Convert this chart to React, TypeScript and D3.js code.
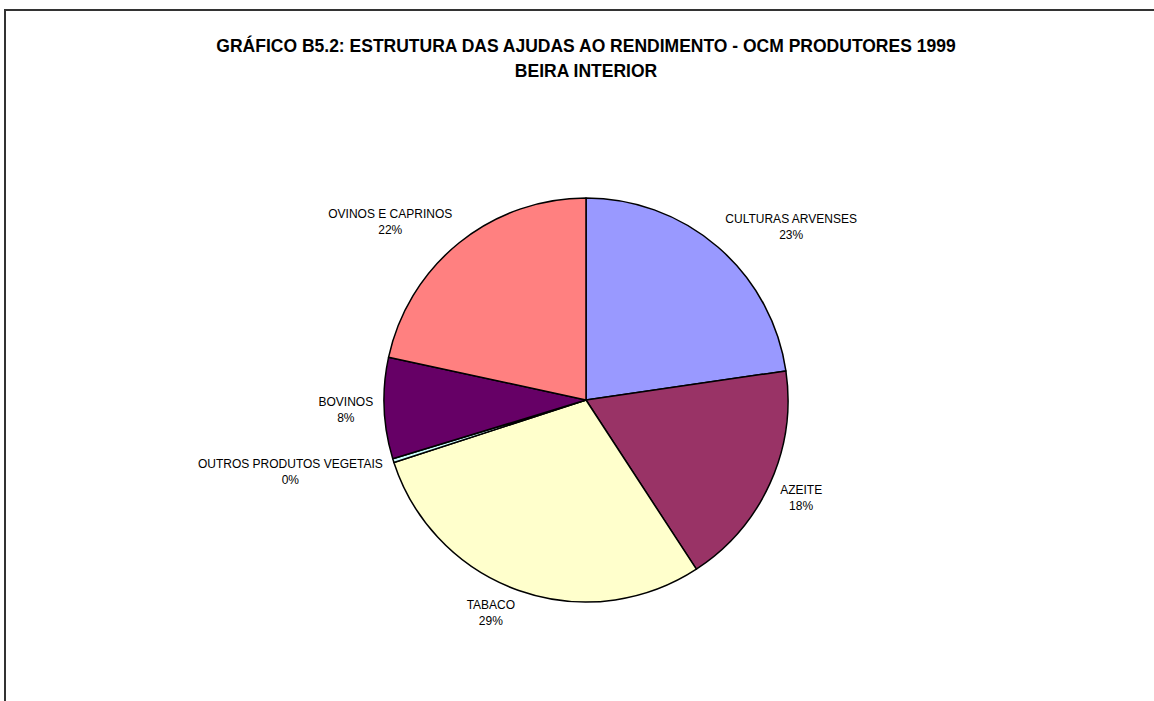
import React, { useEffect, useRef } from 'react';
import * as d3 from 'd3';

const categories = [
  'CULTURAS ARVENSES',
  'AZEITE',
  'TABACO',
  'OUTROS PRODUTOS VEGETAIS',
  'BOVINOS',
  'OVINOS E CAPRINOS'
];
const shares = [22.7, 18.1, 29.2, 0.3, 8.1, 21.6];
const sliceColors = ['#9999FF', '#993366', '#FFFFCC', '#CCFFFF', '#660066', '#FF8080'];
const titleLines = [
  'GRÁFICO B5.2: ESTRUTURA DAS AJUDAS AO RENDIMENTO - OCM PRODUTORES 1999',
  'BEIRA INTERIOR'
];

const width = 1154;
const height = 701;
const cx = 586;
const cy = 400;
const radius = 202;
const labelRadius = 213;
const font = 'Arial, "Liberation Sans", sans-serif';

const App: React.FC = () => {
  const svgRef = useRef<SVGSVGElement>(null);

  useEffect(() => {
    if (!svgRef.current) return;
    const svg = d3.select(svgRef.current);
    svg.selectAll('*').remove();

    // outer chart frame (runs off the right / bottom of the page)
    svg.append('rect')
      .attr('x', 5)
      .attr('y', 10)
      .attr('width', width + 20)
      .attr('height', height + 20)
      .attr('fill', '#fff')
      .attr('stroke', '#333')
      .attr('stroke-width', 2);

    svg.append('g')
      .selectAll('text')
      .data(titleLines)
      .enter()
      .append('text')
      .attr('x', cx)
      .attr('y', (d, i) => 52 + i * 25)
      .attr('text-anchor', 'middle')
      .attr('font-family', font)
      .attr('font-weight', 'bold')
      .attr('font-size', 17.5)
      .attr('fill', '#000')
      .text(d => d);

    const total = d3.sum(shares);
    const pie = d3.pie<number>().sort(null).value(d => d);
    const arcs = pie(shares);
    const arc = d3.arc<d3.PieArcDatum<number>>().innerRadius(0).outerRadius(radius);

    const g = svg.append('g').attr('transform', `translate(${cx},${cy})`);
    g.selectAll('path')
      .data(arcs)
      .enter()
      .append('path')
      .attr('d', arc)
      .attr('fill', (d, i) => sliceColors[i])
      .attr('stroke', '#000')
      .attr('stroke-width', 1.5)
      .attr('stroke-linejoin', 'round');

    // labels: name + percentage, box corner sits on the mid angle just outside the pie
    const clamp = (v: number) => Math.max(-1, Math.min(1, v * 2));
    const boxH = 25;
    const labels = svg.append('g');
    arcs.forEach((a, i) => {
      const mid = (a.startAngle + a.endAngle) / 2;
      const s = Math.sin(mid);
      const c = Math.cos(mid);
      const px = cx + labelRadius * s;
      const py = cy - labelRadius * c;
      const lines = [categories[i], Math.round((shares[i] / total) * 100) + '%'];
      const t = labels.append('text')
        .attr('text-anchor', 'middle')
        .attr('font-family', font)
        .attr('font-size', 12)
        .attr('fill', '#000');
      const spans = t.selectAll('tspan')
        .data(lines)
        .enter()
        .append('tspan')
        .text(d => d);
      let w = 0;
      spans.each(function () {
        w = Math.max(w, (this as SVGTSpanElement).getComputedTextLength());
      });
      const bx = px + (Math.abs(s) > 0.3 ? Math.sign(s) : clamp(s)) * w / 2;
      const by = py - clamp(c) * boxH / 2;
      const base = by - boxH / 2 + 8.6;
      spans
        .attr('x', bx)
        .attr('y', (d, j) => base + j * 16);
    });
  }, []);

  return (
    <svg
      ref={svgRef}
      width={width}
      height={height}
      style={{ position: 'absolute', left: 0, top: 0, background: '#fff' }}
    />
  );
};

export default App;
